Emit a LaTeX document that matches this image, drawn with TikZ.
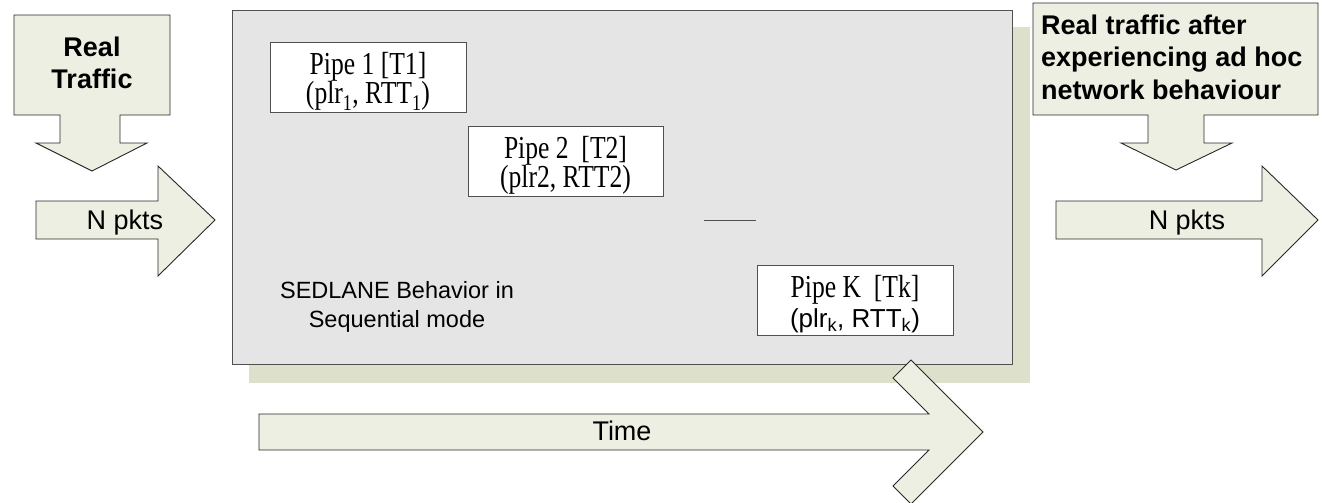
\documentclass[tikz,border=0pt]{standalone}
\usepackage{fontspec}
\setmainfont{Liberation Sans}
\newfontfamily\pipefont{Liberation Serif}[FakeStretch=0.8]
\definecolor{arrowfill}{RGB}{238,239,227}
\definecolor{shadowfill}{RGB}{221,224,203}
\definecolor{panelfill}{RGB}{229,229,229}
\definecolor{panelline}{RGB}{80,80,80}
\definecolor{arrowline}{RGB}{40,40,40}
\tikzset{
  blockarrow/.style={draw=arrowline, fill=arrowfill, line width=0.9pt, line join=miter},
  bigtext/.style={inner sep=0pt, font=\fontsize{27}{31.6}\selectfont},
  boldtext/.style={inner sep=0pt, font=\fontsize{27}{31.6}\selectfont\bfseries},
  pipebox/.style={draw=panelline, fill=white, line width=0.8pt, minimum width=196pt, minimum height=70pt, inner sep=0pt},
  pipetext/.style={inner sep=0pt, align=center, font=\fontsize{32}{29.4}\pipefont},
}
\begin{document}
\begin{tikzpicture}[x=1pt,y=-1pt]
\useasboundingbox (0,0) rectangle (1326,503);

% panel with its drop shadow
\fill[shadowfill] (249,27) rectangle (1030,383);
\draw[draw=panelline, fill=panelfill, line width=0.9pt] (232,10) rectangle (1012,364);

% pipes
\node[pipebox] (p1) at (368,77) {};
\node[pipetext] (p1t) at (368,81.5) {Pipe 1 [T1]\\(plr\textsubscript{1}, RTT\textsubscript{1})};
\node[pipebox, minimum width=195pt] (p2) at (565.5,161) {};
\node[pipetext] (p2t) at (565.5,165.5) {Pipe 2\ \ [T2]\\(plr2, RTT2)};
\node[pipebox] (pk) at (855,300) {};
\node[pipetext] (pkt) at (855,304) {Pipe K\ \ [Tk]\\{\rmfamily\fontsize{26}{29.4}\selectfont(plr\textsubscript{k}, RTT\textsubscript{k})}};

% ellipsis between pipes
\coordinate (gapA) at (704,220);
\coordinate (gapB) at (756,220);
\draw[panelline, line width=0.6pt] (gapA) -- (gapB);

\node[inner sep=0pt, align=center, font=\fontsize{23.5}{29}\selectfont] (mode) at (397,307.4)
  {SEDLANE Behavior in\\Sequential mode};

% incoming traffic
\draw[blockarrow] (14,15) -- (170,15) -- (170,115) -- (120,115) -- (120,143) -- (147,143)
  -- (92,171) -- (36,143) -- (60,143) -- (60,115) -- (14,115) -- cycle;
\node[boldtext, align=center] (real) at (92,62.7) {Real\\Traffic};

\draw[blockarrow] (36,201) -- (158,201) -- (158,166) -- (215,220) -- (158,276) -- (158,239)
  -- (36,239) -- cycle;
\node[bigtext, anchor=base] (nin) at (125,229.5) {N pkts};

% outgoing traffic
\draw[blockarrow] (1033,3) -- (1318,3) -- (1318,115) -- (1204,115) -- (1204,143) -- (1232,143)
  -- (1176,170) -- (1121,143) -- (1148,143) -- (1148,115) -- (1033,115) -- cycle;
\node[boldtext, align=left, anchor=west, font=\fontsize{27}{32.8}\selectfont\bfseries] (after) at (1041,57.3)
  {Real traffic after\\experiencing ad hoc\\network behaviour};

\draw[blockarrow] (1056,201) -- (1262,201) -- (1262,166) -- (1318,220) -- (1262,276) -- (1262,239)
  -- (1056,239) -- cycle;
\node[bigtext, anchor=base] (nout) at (1187,229.5) {N pkts};

% time axis
\draw[blockarrow] (259,414) -- (929,414) -- (893,378) -- (911,360) -- (983,432) -- (911,504)
  -- (893,486) -- (929,450) -- (259,450) -- cycle;
\node[bigtext, anchor=base] (time) at (622,440) {Time};
\end{tikzpicture}
\end{document}
